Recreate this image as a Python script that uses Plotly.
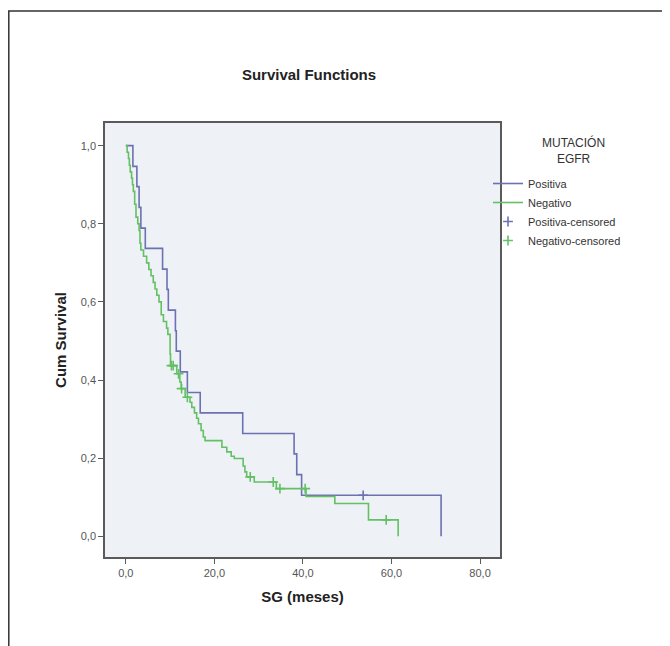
import plotly.graph_objects as go

# ---- data ----
pos_time = [0, 1.6, 2.5, 3.0, 3.4, 4.4, 8.3, 9.3, 9.6, 11.2, 11.4, 12.3, 13.9, 16.8,
            26.4, 38.0, 38.6, 39.7, 71.2]
pos_surv = [1.0, 0.947, 0.895, 0.842, 0.789, 0.737, 0.684, 0.632, 0.579, 0.526, 0.474,
            0.421, 0.368, 0.316, 0.263, 0.211, 0.158, 0.105, 0.0]
pos_cens_time = [53.6]
pos_cens_surv = [0.105]

neg_time = [0, 0.3, 0.6, 0.8, 1.0, 1.3, 1.5, 1.7, 2.0, 2.3, 2.7, 3.0, 3.2, 3.4, 4.0,
            4.7, 5.2, 5.7, 6.2, 6.6, 7.0, 7.5, 8.0, 8.5, 9.2, 9.5, 10.0, 10.1, 11.5,
            12.2, 12.5, 13.4, 14.5, 14.9, 15.5, 16.0, 16.4, 17.0, 17.5, 17.9, 21.7,
            22.8, 23.8, 24.5, 26.5, 26.9, 27.3, 29.0, 34.0, 40.7, 47.2, 54.8, 61.5]
neg_surv = [1.0, 0.983, 0.967, 0.950, 0.933, 0.917, 0.900, 0.883, 0.850, 0.817, 0.800,
            0.783, 0.750, 0.733, 0.717, 0.700, 0.683, 0.667, 0.650, 0.633, 0.617, 0.600,
            0.567, 0.550, 0.533, 0.517, 0.467, 0.437, 0.416, 0.395, 0.378, 0.356, 0.343,
            0.330, 0.316, 0.302, 0.288, 0.271, 0.254, 0.245, 0.228, 0.216, 0.205, 0.199,
            0.180, 0.165, 0.152, 0.139, 0.122, 0.102, 0.084, 0.042, 0.0]
neg_cens_time = [10.3, 10.7, 11.9, 12.6, 13.9, 28.1, 33.3, 34.8, 40.5, 58.8]
neg_cens_surv = [0.437, 0.437, 0.416, 0.378, 0.356, 0.152, 0.139, 0.122, 0.122, 0.042]

x_ticks = [0, 20, 40, 60, 80]
y_ticks = [0, 0.2, 0.4, 0.6, 0.8, 1.0]

BLUE = "#6c71b2"
GREEN = "#64c064"
FONT = "Arial, Liberation Sans, sans-serif"

# page has an 8px body margin, so the figure is 8px smaller and shifted
W, H = 662, 638
L, R, T, B = 97, 170, 115, 89
PW, PH = W - L - R, H - T - B

fig = go.Figure()
fig.add_trace(go.Scatter(x=pos_time, y=pos_surv, mode="lines", line_shape="hv",
                         line=dict(color=BLUE, width=1.6), name="Positiva"))
fig.add_trace(go.Scatter(x=neg_time, y=neg_surv, mode="lines", line_shape="hv",
                         line=dict(color=GREEN, width=1.6), name="Negativo"))
fig.add_trace(go.Scatter(x=pos_cens_time, y=pos_cens_surv, mode="markers",
                         marker=dict(symbol="cross-thin", size=7,
                                     line=dict(color=BLUE, width=1.6)),
                         name="Positiva-censored"))
fig.add_trace(go.Scatter(x=neg_cens_time, y=neg_cens_surv, mode="markers",
                         marker=dict(symbol="cross-thin", size=7,
                                     line=dict(color=GREEN, width=1.6)),
                         name="Negativo-censored"))

axis_common = dict(showline=True, linecolor="#5a5a5a", linewidth=1.5, mirror=True,
                   ticks="outside", ticklen=5, tickcolor="#5a5a5a", tickwidth=1.3,
                   showgrid=False, zeroline=False,
                   tickfont=dict(family=FONT, size=11, color="#555555"))

fig.update_layout(
    width=W, height=H,
    margin=dict(l=L, r=R, t=T, b=B),
    paper_bgcolor="white", plot_bgcolor="#eef2f6",
    separators=", ",
    font=dict(family=FONT),
    title=dict(text="<b>Survival Functions</b>", x=301 / W, xanchor="center",
               y=1 - 67 / H, yanchor="middle",
               font=dict(family=FONT, size=15, color="#222222")),
    xaxis=dict(range=[-4.7, 84.5], tickvals=x_ticks, tickformat=".1f",
               title=dict(text="<b>SG (meses)</b>", standoff=14,
                          font=dict(family=FONT, size=15, color="#222222")),
               **axis_common),
    yaxis=dict(range=[-0.053, 1.058], tickvals=y_ticks, tickformat=".1f",
               title=dict(text="<b>Cum Survival</b>", standoff=11,
                          font=dict(family=FONT, size=15, color="#222222")),
               **axis_common),
    legend=dict(x=(480 - L) / PW, xanchor="left", y=(H - B - 161) / PH, yanchor="top",
                bgcolor="rgba(0,0,0,0)",
                font=dict(family=FONT, size=11, color="#333333"),
                itemwidth=30),
    showlegend=True,
)

# legend heading, centred over the legend entries
fig.add_annotation(text="MUTACIÓN<br>EGFR", xref="paper", yref="paper",
                   x=(565 - L) / PW, y=(H - B - 142) / PH, xanchor="center",
                   yanchor="middle", showarrow=False, align="center",
                   font=dict(family=FONT, size=12, color="#333333"))

# outer frame around the figure
fig.add_shape(type="rect", xref="paper", yref="paper",
              x0=(0.8 - L) / PW, x1=(720 - L) / PW,
              y0=(H - B - 700) / PH, y1=(H - B - 3) / PH,
              line=dict(color="#333333", width=1.5), fillcolor="rgba(0,0,0,0)",
              layer="below")

fig.write_html("out.html")
